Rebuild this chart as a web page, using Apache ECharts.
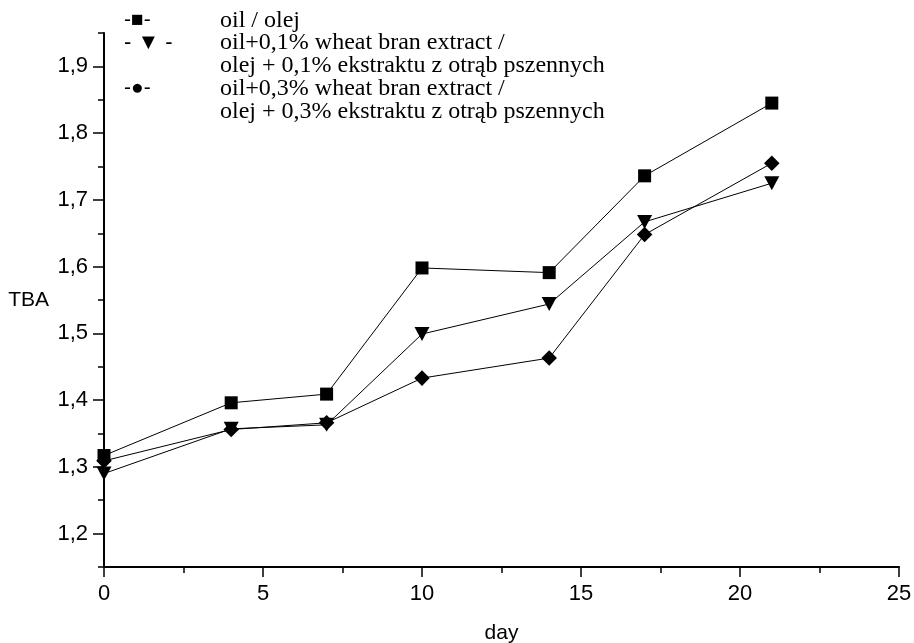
<!DOCTYPE html>
<html>
<head>
<meta charset="utf-8">
<script src="https://cdn.jsdelivr.net/npm/echarts@6/dist/echarts.min.js"></script>
<style>
html, body { margin: 0; padding: 0; background: #fff; }
#chart { width: 914px; height: 643px; }
</style>
</head>
<body>
<div id="chart"></div>
<script>
// dni pomiaru
var days = [0, 4, 7, 10, 14, 17, 21];
// TBA - olej
var oil = [1.317, 1.396, 1.409, 1.598, 1.591, 1.736, 1.845];
// TBA - olej + 0,1% ekstraktu
var oil01 = [1.29, 1.357, 1.363, 1.499, 1.544, 1.667, 1.725];
// TBA - olej + 0,3% ekstraktu
var oil03 = [1.309, 1.356, 1.366, 1.433, 1.463, 1.648, 1.755];
var yLabels = [1.2, 1.3, 1.4, 1.5, 1.6, 1.7, 1.8, 1.9];
var legendNames = [
    ['oil / olej'],
    ['oil+0,1% wheat bran extract /', 'olej + 0,1% ekstraktu z otrąb pszennych'],
    ['oil+0,3% wheat bran extract /', 'olej + 0,3% ekstraktu z otrąb pszennych']
];
var legendMarks = ['-\u25A0-', '- \u25BC -', '-\u25CF-'];

function pairs(ys) {
    return days.map(function (d, i) { return [d, ys[i]]; });
}
function comma(v) {
    return v.toFixed(1).replace('.', ',');
}

var sansFont = '"Liberation Sans", Arial, sans-serif';
var serifFont = '"Liberation Serif", "Times New Roman", serif';

// legenda jako tekst (znaczniki -■- itd.)
var graphics = [];
var rows = [[22], [44, 67], [90, 113]];
legendMarks.forEach(function (m, i) {
    graphics.push({
        type: 'text', left: 124, top: rows[i][0] - 12,
        style: { text: m, font: (i == 1 ? '22px ' : '21px ') + sansFont, fill: '#000' }
    });
    legendNames[i].forEach(function (t, j) {
        graphics.push({
            type: 'text', left: 220, top: rows[i][j] - 13,
            style: { text: t, font: '24px ' + serifFont, fill: '#000' }
        });
    });
});

var lineCommon = {
    type: 'line',
    color: '#000',
    lineStyle: { color: '#000', width: 1 },
    itemStyle: { color: '#000' },
    z: 3
};

var option = {
    animation: false,
    backgroundColor: '#fff',
    grid: { left: 104, right: 15, top: 33, bottom: 76, outerBoundsMode: 'none', containLabel: false },
    graphic: graphics,
    xAxis: {
        type: 'value',
        min: 0, max: 25, interval: 5,
        name: 'day',
        nameLocation: 'middle',
        nameGap: 56,
        nameTextStyle: { fontFamily: sansFont, fontSize: 21, color: '#000' },
        axisLine: { lineStyle: { color: '#000', width: 2 } },
        axisTick: { inside: false, length: 10, lineStyle: { color: '#000', width: 1.5 } },
        minorTick: { show: true, splitNumber: 2, length: 6, lineStyle: { color: '#000', width: 1.5 } },
        axisLabel: { margin: 16, fontFamily: sansFont, fontSize: 22, color: '#000' },
        splitLine: { show: false }
    },
    yAxis: [{
        type: 'value',
        min: 1.15, max: 1.95, interval: 0.05,
        axisLine: { show: true, lineStyle: { color: '#000', width: 2 } },
        axisTick: { length: 6, lineStyle: { color: '#000', width: 1.5 } },
        axisLabel: { show: false },
        splitLine: { show: false }
    }, {
        type: 'value',
        position: 'left',
        min: 1.15, max: 1.95,
        name: 'TBA',
        nameLocation: 'middle',
        nameRotate: 0,
        nameGap: 55,
        nameTextStyle: { fontFamily: sansFont, fontSize: 21, color: '#000' },
        axisLine: { show: false },
        axisTick: { show: true, length: 11, customValues: yLabels, lineStyle: { color: '#000', width: 1.5 } },
        axisLabel: {
            customValues: yLabels, margin: 16,
            fontFamily: sansFont, fontSize: 22, color: '#000',
            formatter: function (v) { return comma(v); }
        },
        splitLine: { show: false }
    }],
    series: [
        Object.assign({}, lineCommon, {
            name: legendNames[0][0],
            data: pairs(oil),
            symbol: 'rect', symbolSize: 13
        }),
        Object.assign({}, lineCommon, {
            name: legendNames[1][0],
            data: pairs(oil01),
            symbol: 'triangle', symbolRotate: 180, symbolSize: [15, 14]
        }),
        Object.assign({}, lineCommon, {
            name: legendNames[2][0],
            data: pairs(oil03),
            symbol: 'rect', symbolRotate: 45, symbolSize: 11
        })
    ]
};

var myChart = echarts.init(document.getElementById('chart'));
myChart.setOption(option);
window.addEventListener('resize', function () {
    myChart.resize();
}, false);
</script>
</body>
</html>
